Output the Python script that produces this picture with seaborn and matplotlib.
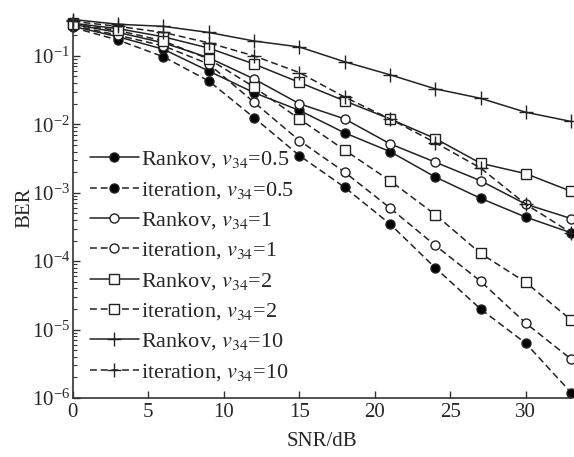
import matplotlib
matplotlib.use("Agg")
import matplotlib.pyplot as plt
import seaborn as sns
import numpy as np

snr = [0, 3, 6, 9, 12, 15, 18, 21, 24, 27, 30, 33]

rankov_05 = [0.27, 0.19, 0.125, 0.060, 0.029, 0.016, 0.0075, 0.0040, 0.0017, 0.00083, 0.00044, 0.00026]
iter_05 = [0.26, 0.17, 0.097, 0.043, 0.0125, 0.0035, 0.0012, 0.00035, 8.0e-5, 2.0e-5, 6.3e-6, 1.2e-6]
rankov_1 = [0.29, 0.22, 0.155, 0.094, 0.046, 0.020, 0.012, 0.0052, 0.0028, 0.0015, 0.00068, 0.00042]
iter_1 = [0.28, 0.20, 0.14, 0.076, 0.021, 0.0058, 0.0020, 0.0006, 0.00017, 5.1e-5, 1.24e-5, 3.7e-6]
rankov_2 = [0.30, 0.25, 0.19, 0.13, 0.076, 0.041, 0.022, 0.012, 0.0062, 0.0027, 0.0019, 0.00105]
iter_2 = [0.29, 0.235, 0.165, 0.09, 0.035, 0.012, 0.0042, 0.0015, 0.00048, 0.00013, 4.9e-5, 1.38e-5]
rankov_10 = [0.34, 0.29, 0.27, 0.22, 0.165, 0.135, 0.082, 0.053, 0.033, 0.024, 0.015, 0.011]
iter_10 = [0.32, 0.27, 0.22, 0.155, 0.10, 0.057, 0.025, 0.012, 0.0054, 0.0023, 0.00068, 0.00026]

labels = [
    r"Rankov, $v_{34}$=0.5", r"iteration, $v_{34}$=0.5",
    r"Rankov, $v_{34}$=1", r"iteration, $v_{34}$=1",
    r"Rankov, $v_{34}$=2", r"iteration, $v_{34}$=2",
    r"Rankov, $v_{34}$=10", r"iteration, $v_{34}$=10",
]
xticks = [0, 5, 10, 15, 20, 25, 30]

sns.set_style("ticks")
plt.rcParams["font.family"] = ["Liberation Serif", "DejaVu Serif"]
plt.rcParams["mathtext.fontset"] = "stix"
plt.rcParams["xtick.direction"] = "in"
plt.rcParams["ytick.direction"] = "in"

fig = plt.figure(figsize=(5.74, 4.57), dpi=100)
ax = fig.add_axes([0.127, 0.129, 0.868, 0.832])

series = [rankov_05, iter_05, rankov_1, iter_1, rankov_2, iter_2, rankov_10, iter_10]
markers = ["o", "o", "o", "o", "s", "s", "+", "+"]
faces = ["k", "k", "white", "white", "white", "white", "k", "k"]
sizes = [6.5, 6.5, 6.5, 6.5, 7, 7, 10, 10]
dashed = [False, True] * 4
col = "#222222"

for vals, lab, m, fc, ms, d in zip(series, labels, markers, faces, sizes, dashed):
    sns.lineplot(x=snr, y=vals, ax=ax, label=lab, color=col,
                 linestyle=(0, (4.5, 2.5)) if d else "-", linewidth=1.1,
                 marker=m, markersize=ms, markerfacecolor=fc,
                 markeredgecolor=col, markeredgewidth=1.0, clip_on=False)

ax.set_yscale("log")
ax.set_xlim(0, 33)
ax.set_ylim(1e-6, 0.36)
ax.set_xticks(xticks)
ax.set_yticks([1e-6, 1e-5, 1e-4, 1e-3, 1e-2, 1e-1])
ax.tick_params(axis="both", which="major", labelsize=15, length=5, width=1, color="#333333")
ax.tick_params(axis="y", which="major", pad=2)
ax.tick_params(axis="y", which="minor", length=3, width=0.8, color="#333333")
for s in ["top", "right"]:
    ax.spines[s].set_visible(False)
for s in ["left", "bottom"]:
    ax.spines[s].set_linewidth(1.2)
    ax.spines[s].set_color("#333333")

ax.set_xlabel("SNR/dB", fontsize=15, labelpad=7)
ax.set_ylabel("BER", fontsize=15)
ax.yaxis.set_label_coords(-0.078, 0.5)

leg = ax.legend(loc="lower left", bbox_to_anchor=(0.034, 0.04), frameon=False,
                fontsize=16, handlelength=2.2, handletextpad=0.1,
                labelspacing=0.42, borderpad=0, borderaxespad=0, numpoints=1)

fig.savefig("out.png", dpi=100)
